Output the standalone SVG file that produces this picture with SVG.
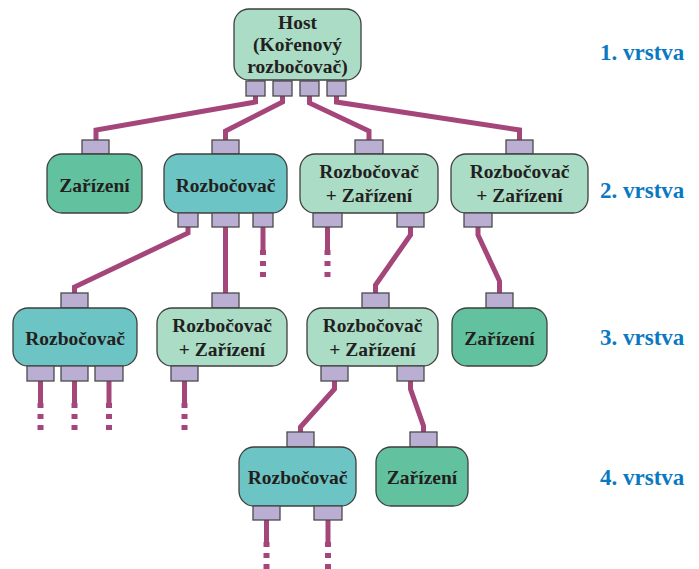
<svg xmlns="http://www.w3.org/2000/svg" width="699" height="569" viewBox="0 0 699 569">
  <style>
    .box { stroke: #3f3f3f; stroke-width: 1.3; }
    .host, .combo { fill: #aadcc6; }
    .dev { fill: #62c29f; }
    .hub { fill: #6cc4c4; }
    .port { fill: #bbaed3; stroke: #4a4a4a; stroke-width: 1.3; }
    text { font-family: 'Liberation Serif', 'Times New Roman', Times, 'DejaVu Serif', serif; font-weight: bold; }
    .lbl { font-size: 19.5px; fill: #231f20; text-anchor: middle; }
    .tier { font-size: 23px; fill: #0b78c2; }
    .wire { fill: none; stroke: #a5467a; stroke-width: 5; stroke-linejoin: miter; }
    .dot { fill: #a5467a; }
  </style>

  <!-- cables between ports -->
  <g id="connectors">
    <path class="wire" d="M255.5 96 V102 L96 130 V140"/>
    <path class="wire" d="M282.5 96 V102 L225.5 131 V140"/>
    <path class="wire" d="M309.5 96 V103 L369 131 V140"/>
    <path class="wire" d="M336.5 96 V102 L519.5 130 V140"/>

    <path class="wire" d="M188 227 V233 L74.5 287 V293"/>
    <path class="wire" d="M225.5 227 V293"/>
    <path class="wire" d="M263 227 V250"/>
    <path class="wire" d="M410.5 227 V235 L375.5 285 V293"/>
    <path class="wire" d="M478 227 V235 L499.5 281 V293"/>
    <path class="wire" d="M327.5 227 V250"/>

    <path class="wire" d="M40.5 381 V403"/>
    <path class="wire" d="M74.5 381 V403"/>
    <path class="wire" d="M109 381 V403"/>
    <path class="wire" d="M184.5 381 V403"/>
    <path class="wire" d="M334.5 381 V389 L300.5 427 V432"/>
    <path class="wire" d="M410.5 381 V389 L423.5 426 V432"/>

    <path class="wire" d="M266.5 520 V542"/>
    <path class="wire" d="M328 520 V542"/>

    <!-- dotted continuations -->
    <g class="dot">
      <rect x="260" y="250" width="6" height="5"/><rect x="260" y="261" width="6" height="5"/><rect x="260" y="272" width="6" height="5"/>
      <rect x="324.5" y="250" width="6" height="5"/><rect x="324.5" y="261" width="6" height="5"/><rect x="324.5" y="272" width="6" height="5"/>
      <rect x="37.5" y="403" width="6" height="5"/><rect x="37.5" y="414" width="6" height="5"/><rect x="37.5" y="425" width="6" height="5"/>
      <rect x="71.5" y="403" width="6" height="5"/><rect x="71.5" y="414" width="6" height="5"/><rect x="71.5" y="425" width="6" height="5"/>
      <rect x="106" y="403" width="6" height="5"/><rect x="106" y="414" width="6" height="5"/><rect x="106" y="425" width="6" height="5"/>
      <rect x="181.5" y="403" width="6" height="5"/><rect x="181.5" y="414" width="6" height="5"/><rect x="181.5" y="425" width="6" height="5"/>
      <rect x="263.5" y="542" width="6" height="5"/><rect x="263.5" y="553" width="6" height="5"/><rect x="263.5" y="564" width="6" height="5"/>
      <rect x="325" y="542" width="6" height="5"/><rect x="325" y="553" width="6" height="5"/><rect x="325" y="564" width="6" height="5"/>
    </g>
  </g>

  <!-- tier 1 -->
  <g id="host">
    <rect class="box host" x="234" y="9" width="127" height="71" rx="15"/>
    <rect class="port" x="246" y="81" width="19" height="15"/>
    <rect class="port" x="273" y="81" width="19" height="15"/>
    <rect class="port" x="300" y="81" width="19" height="15"/>
    <rect class="port" x="327" y="81" width="19" height="15"/>
    <text class="lbl" x="297.5" y="29">Host</text>
    <text class="lbl" x="297.5" y="51">(Kořenový</text>
    <text class="lbl" x="297.5" y="73">rozbočovač)</text>
  </g>

  <!-- tier 2 -->
  <g id="t2-device">
    <rect class="port" x="82" y="140" width="27" height="14"/>
    <rect class="box dev" x="47" y="154" width="95" height="59" rx="15"/>
    <text class="lbl" x="94.5" y="192">Zařízení</text>
  </g>
  <g id="t2-hub">
    <rect class="port" x="212" y="140" width="27" height="14"/>
    <rect class="box hub" x="164" y="154" width="123" height="59" rx="15"/>
    <rect class="port" x="178" y="213" width="20" height="14"/>
    <rect class="port" x="212" y="213" width="27" height="14"/>
    <rect class="port" x="253" y="213" width="20" height="14"/>
    <text class="lbl" x="225.5" y="192">Rozbočovač</text>
  </g>
  <g id="t2-combo-a">
    <rect class="port" x="355" y="140" width="28" height="14"/>
    <rect class="box combo" x="300" y="154" width="138" height="59" rx="15"/>
    <rect class="port" x="313" y="213" width="29" height="14"/>
    <rect class="port" x="397" y="213" width="27" height="14"/>
    <text class="lbl" x="369" y="178">Rozbočovač</text>
    <text class="lbl" x="369" y="202">+ Zařízení</text>
  </g>
  <g id="t2-combo-b">
    <rect class="port" x="506" y="140" width="27" height="14"/>
    <rect class="box combo" x="451" y="154" width="137" height="59" rx="15"/>
    <rect class="port" x="464" y="213" width="28" height="14"/>
    <text class="lbl" x="519.5" y="178">Rozbočovač</text>
    <text class="lbl" x="519.5" y="202">+ Zařízení</text>
  </g>

  <!-- tier 3 -->
  <g id="t3-hub">
    <rect class="port" x="61" y="293" width="27" height="15"/>
    <rect class="box hub" x="13" y="308" width="124" height="58" rx="15"/>
    <rect class="port" x="27" y="366" width="27" height="15"/>
    <rect class="port" x="61" y="366" width="27" height="15"/>
    <rect class="port" x="95" y="366" width="28" height="15"/>
    <text class="lbl" x="75" y="345">Rozbočovač</text>
  </g>
  <g id="t3-combo-a">
    <rect class="port" x="212" y="293" width="27" height="15"/>
    <rect class="box combo" x="157" y="308" width="130" height="58" rx="15"/>
    <rect class="port" x="171" y="366" width="27" height="15"/>
    <text class="lbl" x="222" y="332">Rozbočovač</text>
    <text class="lbl" x="222" y="356">+ Zařízení</text>
  </g>
  <g id="t3-combo-b">
    <rect class="port" x="362" y="293" width="27" height="15"/>
    <rect class="box combo" x="307" y="308" width="131" height="58" rx="15"/>
    <rect class="port" x="321" y="366" width="27" height="15"/>
    <rect class="port" x="397" y="366" width="27" height="15"/>
    <text class="lbl" x="372.5" y="332">Rozbočovač</text>
    <text class="lbl" x="372.5" y="356">+ Zařízení</text>
  </g>
  <g id="t3-device">
    <rect class="port" x="486" y="293" width="27" height="15"/>
    <rect class="box dev" x="452" y="308" width="95" height="58" rx="15"/>
    <text class="lbl" x="499.5" y="345">Zařízení</text>
  </g>

  <!-- tier 4 -->
  <g id="t4-hub">
    <rect class="port" x="287" y="432" width="27" height="15"/>
    <rect class="box hub" x="239" y="447" width="117" height="59" rx="15"/>
    <rect class="port" x="253" y="506" width="27" height="14"/>
    <rect class="port" x="314" y="506" width="28" height="14"/>
    <text class="lbl" x="297.5" y="484">Rozbočovač</text>
  </g>
  <g id="t4-device">
    <rect class="port" x="410" y="432" width="27" height="15"/>
    <rect class="box dev" x="376" y="447" width="92" height="59" rx="15"/>
    <text class="lbl" x="422" y="484">Zařízení</text>
  </g>

  <!-- tier captions -->
  <g id="tiers">
    <text class="tier" x="600" y="60">1. vrstva</text>
    <text class="tier" x="600" y="198">2. vrstva</text>
    <text class="tier" x="600" y="345">3. vrstva</text>
    <text class="tier" x="600" y="485">4. vrstva</text>
  </g>
</svg>
